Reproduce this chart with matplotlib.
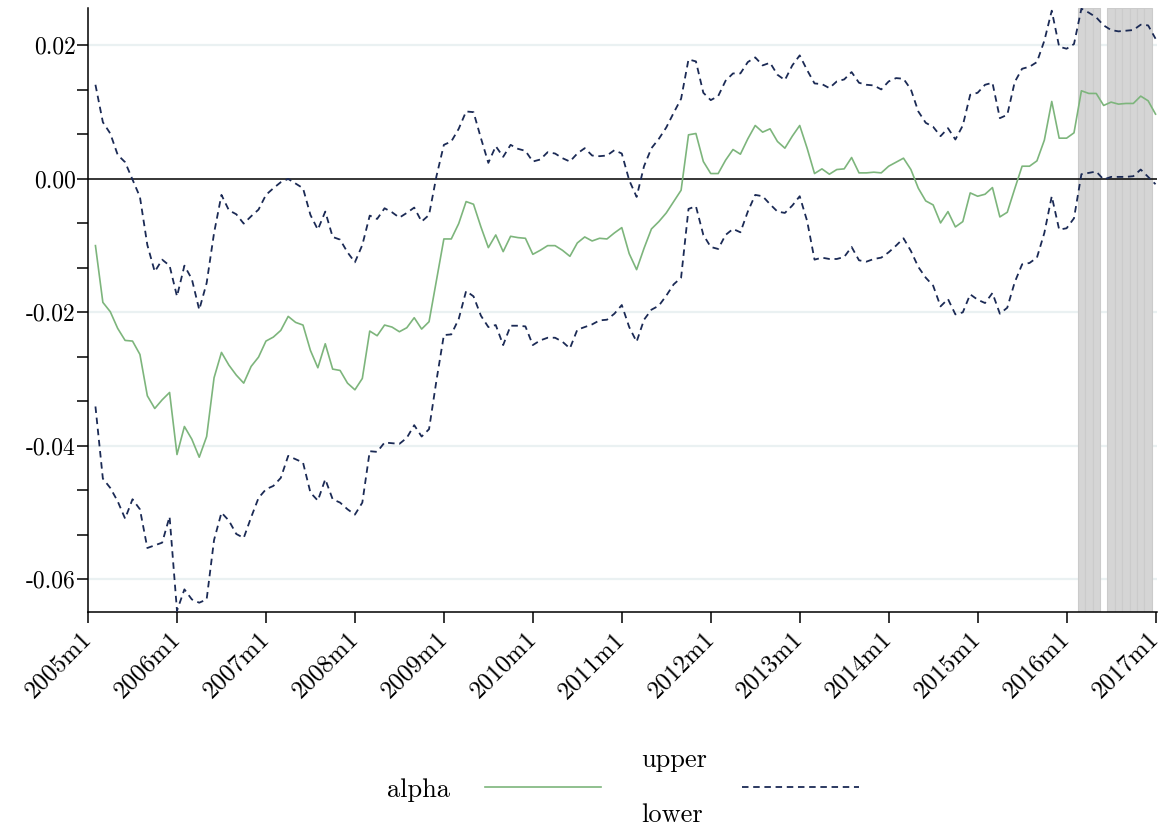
import numpy as np
import pandas as pd
import matplotlib
matplotlib.use("Agg")
import matplotlib.pyplot as plt
from matplotlib.ticker import MultipleLocator

plt.rcParams['font.family'] = ['cmr10', 'DejaVu Serif']
plt.rcParams['axes.unicode_minus'] = False
plt.rcParams['mathtext.fontset'] = 'cm'

# monthly estimates, 2005m2 .. 2017m1
start = '2005-02'
alpha = [-0.0100, -0.0185, -0.0199, -0.0224, -0.0242, -0.0243, -0.0263, -0.0325, -0.0344, -0.0331,
         -0.0320, -0.0413, -0.0371, -0.0390, -0.0417, -0.0386, -0.0298, -0.0260, -0.0279, -0.0294,
         -0.0306, -0.0281, -0.0267, -0.0243, -0.0237, -0.0227, -0.0206, -0.0215, -0.0219, -0.0257,
         -0.0283, -0.0247, -0.0285, -0.0287, -0.0306, -0.0316, -0.0299, -0.0228, -0.0235, -0.0219,
         -0.0222, -0.0229, -0.0223, -0.0208, -0.0225, -0.0214, -0.0152, -0.0090, -0.0090, -0.0067,
         -0.0034, -0.0038, -0.0072, -0.0103, -0.0084, -0.0109, -0.0086, -0.0088, -0.0089, -0.0113,
         -0.0107, -0.0100, -0.0100, -0.0107, -0.0116, -0.0096, -0.0087, -0.0093, -0.0089, -0.0090,
         -0.0081, -0.0073, -0.0112, -0.0136, -0.0104, -0.0075, -0.0064, -0.0051, -0.0034, -0.0017,
         0.0066, 0.0068, 0.0026, 0.0008, 0.0008, 0.0028, 0.0044, 0.0037, 0.0060, 0.0080,
         0.0070, 0.0075, 0.0056, 0.0046, 0.0064, 0.0080, 0.0046, 0.0008, 0.0015, 0.0007,
         0.0014, 0.0015, 0.0032, 0.0009, 0.0009, 0.0010, 0.0009, 0.0019, 0.0025, 0.0031,
         0.0014, -0.0014, -0.0033, -0.0039, -0.0066, -0.0049, -0.0072, -0.0064, -0.0021, -0.0026,
         -0.0023, -0.0013, -0.0057, -0.0050, -0.0015, 0.0019, 0.0019, 0.0027, 0.0058, 0.0116,
         0.0061, 0.0061, 0.0069, 0.0132, 0.0128, 0.0128, 0.0110, 0.0115, 0.0112, 0.0113,
         0.0113, 0.0124, 0.0117, 0.0097]
upper = [0.0141, 0.0085, 0.0068, 0.0036, 0.0025, -0.0001, -0.0027, -0.0099, -0.0139, -0.0121,
         -0.0130, -0.0176, -0.0130, -0.0150, -0.0196, -0.0156, -0.0081, -0.0024, -0.0047, -0.0053,
         -0.0067, -0.0056, -0.0046, -0.0024, -0.0014, -0.0005, 0.0000, -0.0007, -0.0014, -0.0054,
         -0.0076, -0.0049, -0.0087, -0.0091, -0.0110, -0.0125, -0.0099, -0.0055, -0.0060, -0.0044,
         -0.0050, -0.0058, -0.0051, -0.0043, -0.0064, -0.0054, 0.0004, 0.0051, 0.0056, 0.0075,
         0.0101, 0.0100, 0.0061, 0.0024, 0.0049, 0.0033, 0.0051, 0.0045, 0.0042, 0.0026,
         0.0029, 0.0040, 0.0038, 0.0031, 0.0026, 0.0038, 0.0046, 0.0035, 0.0034, 0.0035,
         0.0043, 0.0038, -0.0002, -0.0027, 0.0019, 0.0046, 0.0060, 0.0077, 0.0099, 0.0120,
         0.0179, 0.0176, 0.0129, 0.0118, 0.0124, 0.0147, 0.0158, 0.0158, 0.0175, 0.0182,
         0.0170, 0.0174, 0.0156, 0.0148, 0.0170, 0.0185, 0.0163, 0.0143, 0.0142, 0.0136,
         0.0146, 0.0149, 0.0160, 0.0144, 0.0141, 0.0140, 0.0134, 0.0146, 0.0151, 0.0150,
         0.0134, 0.0101, 0.0084, 0.0078, 0.0064, 0.0076, 0.0059, 0.0080, 0.0126, 0.0129,
         0.0141, 0.0144, 0.0091, 0.0096, 0.0145, 0.0165, 0.0168, 0.0175, 0.0207, 0.0252,
         0.0198, 0.0195, 0.0202, 0.0255, 0.0249, 0.0242, 0.0230, 0.0223, 0.0221, 0.0222,
         0.0223, 0.0231, 0.0230, 0.0210]
lower = [-0.0341, -0.0449, -0.0463, -0.0483, -0.0509, -0.0480, -0.0495, -0.0553, -0.0549, -0.0545,
         -0.0506, -0.0647, -0.0615, -0.0630, -0.0635, -0.0630, -0.0541, -0.0500, -0.0512, -0.0532,
         -0.0538, -0.0507, -0.0478, -0.0465, -0.0460, -0.0448, -0.0415, -0.0420, -0.0425, -0.0470,
         -0.0482, -0.0450, -0.0480, -0.0485, -0.0495, -0.0503, -0.0485, -0.0408, -0.0409, -0.0395,
         -0.0396, -0.0397, -0.0388, -0.0369, -0.0386, -0.0375, -0.0302, -0.0234, -0.0233, -0.0210,
         -0.0168, -0.0176, -0.0205, -0.0222, -0.0219, -0.0249, -0.0220, -0.0220, -0.0221, -0.0249,
         -0.0242, -0.0238, -0.0238, -0.0244, -0.0254, -0.0226, -0.0222, -0.0218, -0.0212, -0.0211,
         -0.0202, -0.0189, -0.0222, -0.0244, -0.0211, -0.0196, -0.0190, -0.0175, -0.0158, -0.0148,
         -0.0045, -0.0041, -0.0084, -0.0102, -0.0105, -0.0084, -0.0075, -0.0080, -0.0049, -0.0024,
         -0.0026, -0.0038, -0.0049, -0.0051, -0.0040, -0.0026, -0.0063, -0.0121, -0.0118, -0.0120,
         -0.0120, -0.0117, -0.0102, -0.0122, -0.0124, -0.0120, -0.0118, -0.0110, -0.0100, -0.0089,
         -0.0108, -0.0132, -0.0148, -0.0160, -0.0191, -0.0180, -0.0203, -0.0200, -0.0173, -0.0181,
         -0.0186, -0.0171, -0.0202, -0.0193, -0.0155, -0.0128, -0.0126, -0.0118, -0.0081, -0.0026,
         -0.0076, -0.0074, -0.0059, 0.0007, 0.0009, 0.0011, -0.0001, 0.0003, 0.0003, 0.0003,
         0.0004, 0.0014, 0.0003, -0.0008]
shaded = ['2016-03', '2016-04', '2016-05',
          '2016-07', '2016-08', '2016-09', '2016-10', '2016-11', '2016-12']
years = list(range(2005, 2018))
ytick_vals = [-0.06, -0.04, -0.02, 0.00, 0.02]
ytick_labels = ['-0.06', '-0.04', '-0.02', '0.00', '0.02']

base = pd.Period('2005-01', freq='M')
months = pd.period_range(start, periods=len(alpha), freq='M')
t = np.array([(m - base).n for m in months])
t_shade = np.array([(pd.Period(m, freq='M') - base).n for m in shaded])

green = '#7db57c'
navy = '#1b2a55'
ylo, yhi = -0.0649, 0.0256

fig = plt.figure(figsize=(11.66, 8.26), dpi=100)
ax = fig.add_axes([0.0755, 0.259, 0.9168, 0.7313])

# light grid at the labelled levels, black reference line at zero
for y in ytick_vals:
    if y != 0:
        ax.axhline(y, color='#eaf1f2', lw=1.6, zorder=0)
ax.bar(t_shade, yhi - ylo, bottom=ylo, width=1.0, color='#d5d5d5',
       edgecolor='#cbcbcb', linewidth=0.8, zorder=1)
ax.axhline(0, color='black', lw=1.1, zorder=2)

l_alpha, = ax.plot(t, alpha, color=green, lw=1.2, zorder=3)
l_up, = ax.plot(t, upper, color=navy, lw=1.3, dashes=(3.6, 2.6), zorder=3)
ax.plot(t, lower, color=navy, lw=1.3, dashes=(3.6, 2.6), zorder=3)

ax.set_xlim(0, 144.2)
ax.set_ylim(ylo, yhi)
ax.set_xticks([12 * (y - 2005) for y in years])
ax.set_xticklabels([f'{y}m1' for y in years], rotation=45, ha='right', va='center',
                   rotation_mode='anchor', fontsize=18)
ax.set_yticks(ytick_vals)
ax.set_yticklabels(ytick_labels, fontsize=17)
ax.yaxis.set_minor_locator(MultipleLocator(0.02 / 3))
ax.tick_params(axis='both', which='both', direction='out', length=8, width=1.1, color='black')
ax.tick_params(axis='y', pad=1)
ax.tick_params(axis='x', pad=9)
for s in ['top', 'right']:
    ax.spines[s].set_visible(False)
for s in ['left', 'bottom']:
    ax.spines[s].set_linewidth(1.1)

fig.legend([l_alpha, l_up], ['alpha', 'upper\n\nlower'], loc='center',
           bbox_to_anchor=(0.534, 0.047), ncol=2, markerfirst=False, frameon=False,
           fontsize=19, handlelength=4.4, handletextpad=1.35, columnspacing=1.5)

fig.savefig('out.png', dpi=100)
